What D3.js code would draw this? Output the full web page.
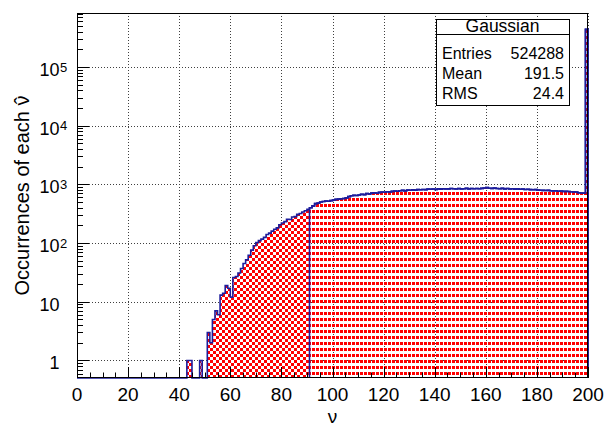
<!DOCTYPE html>
<html><head><meta charset="utf-8">
<script src="https://cdn.jsdelivr.net/npm/d3@7"></script>
<style>body{margin:0;background:#fff}svg{display:block}</style>
</head><body>
<svg id="c" width="605" height="426"></svg>
<script>
// ---- data ----
// counts per unit-wide bin, index = bin low edge (0..199)
const counts = [
  0,0,0,0,0,0,0,0,0,0, 0,0,0,0,0,0,0,0,0,0,
  0,0,0,0,0,0,0,0,0,0, 0,0,0,0,0,0,0,0,0,0,
  0,0,0,1,1,0,0,0,1,0, 0,3,2,5,7,6,13,14,19,17,
  12,26,27,31,37,45,52,62,76,90, 102,110,117,125,140,148,160,172,182,205,
  220,232,255,252,278,282,308,320,338,355, 375,400,430,470,480,500,510,520,515,530,
  540,555,560,570,575,590,620,640,650,645, 660,680,670,700,690,710,720,705,730,740,
  735,750,745,760,770,765,780,790,775,800, 795,805,800,815,810,820,815,830,825,835,
  820,840,830,845,835,840,850,845,835,850, 840,845,855,840,850,845,850,845,855,870,
  880,860,855,865,850,845,855,840,850,835, 845,830,840,825,830,820,825,815,810,815,
  800,795,790,785,790,780,775,780,765,770, 760,760,755,750,745,740,720,715,710,437710
];
const splitBin = 91;                       // second fill style starts here
const xTicks = [0,20,40,60,80,100,120,140,160,180,200];
const yTickExps = [0,1,2,3,4,5];
const statsTitle = "Gaussian";
const statNames = ["Entries","Mean","RMS"];
const statValues = ["524288","191.5","24.4"];
const xTitle = "\u03BD";
const yTitle = "Occurrences of each \u03BD";
const yTitleHat = "\u02C6";

// ---- layout ----
const L = 77, R = 588, T = 13, B = 378;
const yMin = 0.503, yMax = Math.pow(10, 5.92);
const FONT = "'Liberation Sans', Arial, Helvetica, sans-serif";
const BLUE = "#1c1c9c", RED = "#ff0000";

const svg = d3.select("#c");
const x = d3.scaleLinear().domain([0, 200]).range([L, R]);
const y = d3.scaleLog().domain([yMin, yMax]).range([B, T]).clamp(true);
const yPos = v => v > 0 ? y(v) : B;

// patterns
const defs = svg.append("defs");
const c = 3;
const p1 = defs.append("pattern").attr("id","checker").attr("patternUnits","userSpaceOnUse")
  .attr("width", 2*c).attr("height", 2*c);
p1.append("rect").attr("width",2*c).attr("height",2*c).attr("fill","#fff");
p1.append("rect").attr("x",0).attr("y",0).attr("width",c).attr("height",c).attr("fill",RED);
p1.append("rect").attr("x",c).attr("y",c).attr("width",c).attr("height",c).attr("fill",RED);
const p2 = defs.append("pattern").attr("id","dots").attr("patternUnits","userSpaceOnUse")
  .attr("width", 4).attr("height", 6);
p2.append("rect").attr("x",0).attr("y",0).attr("width",3).attr("height",3).attr("fill",RED);

// background
svg.append("rect").attr("width",605).attr("height",426).attr("fill","#fff");

// grid
const grid = svg.append("g").attr("stroke","#000").attr("stroke-width",1)
  .attr("stroke-dasharray","1,2").attr("opacity",0.75);
xTicks.forEach(t => {
  const px = Math.round(x(t)) + 0.5;
  grid.append("line").attr("x1",px).attr("x2",px).attr("y1",T).attr("y2",B);
});
yTickExps.forEach(e => {
  const py = Math.round(y(Math.pow(10,e))) + 0.5;
  grid.append("line").attr("x1",L).attr("x2",R).attr("y1",py).attr("y2",py);
});

// step points
function stepPoints(i0, i1) {
  const pts = [];
  for (let i = i0; i < i1; i++) { pts.push([i, counts[i]]); pts.push([i+1, counts[i]]); }
  return pts;
}
const area = d3.area().x(d => x(d[0])).y0(B).y1(d => yPos(d[1]));
const line = d3.line().x(d => x(d[0])).y(d => yPos(d[1]));

svg.append("path").datum(stepPoints(0, splitBin)).attr("d", area).attr("fill","url(#checker)");
svg.append("path").datum(stepPoints(splitBin, counts.length)).attr("d", area).attr("fill","url(#dots)");

const full = [[0,0]].concat(stepPoints(0, counts.length), [[counts.length,0]]);
svg.append("path").datum(full).attr("d", line).attr("fill","none")
  .attr("stroke",BLUE).attr("stroke-width",1.6);
const part = [[splitBin,0]].concat(stepPoints(splitBin, counts.length), [[counts.length,0]]);
svg.append("path").datum(part).attr("d", line).attr("fill","none")
  .attr("stroke",BLUE).attr("stroke-width",1.6);

// frame
svg.append("rect").attr("x",L+0.5).attr("y",T+0.5).attr("width",R-L-1).attr("height",B-T-1)
  .attr("fill","none").attr("stroke","#000").attr("stroke-width",1);

// x ticks
const ax = svg.append("g").attr("stroke","#000").attr("stroke-width",1);
for (let v = 0; v <= 200; v += 5) {
  const px = Math.round(x(v)) + 0.5;
  const len = (v % 20 === 0) ? 11 : 5.5;
  ax.append("line").attr("x1",px).attr("x2",px).attr("y1",B).attr("y2",B-len);
}
// y ticks
const lo = Math.floor(Math.log10(yMin)), hi = Math.ceil(Math.log10(yMax));
for (let e = lo; e <= hi; e++) {
  for (let m = 1; m <= 9; m++) {
    const v = m * Math.pow(10, e);
    if (v < yMin || v > yMax) continue;
    const py = Math.round(y(v)) + 0.5;
    const len = m === 1 ? 12 : 6;
    ax.append("line").attr("x1",L).attr("x2",L+len).attr("y1",py).attr("y2",py);
  }
}

// x labels
svg.append("g").selectAll("text").data(xTicks).join("text")
  .attr("x", d => x(d)).attr("y", 401).attr("text-anchor","middle")
  .attr("font-family",FONT).attr("font-size",19).attr("fill","#000").text(d => d);

// y labels
const yl = svg.append("g").attr("font-family",FONT).attr("fill","#000");
yTickExps.forEach(e => {
  const py = y(Math.pow(10,e));
  yl.append("text").attr("x",59.5).attr("y",py+9).attr("text-anchor","end")
    .attr("font-size",18).text(e === 0 ? "1" : "10");
  if (e >= 2) {
    yl.append("text").attr("x",60).attr("y",py+4.5).attr("text-anchor","start")
      .attr("font-size",13).text(e);
  }
});

// axis titles
svg.append("text").attr("x",(L+R)/2).attr("y",422.5).attr("text-anchor","middle")
  .attr("font-family",FONT).attr("font-size",19).text(xTitle);
const yt = svg.append("g").attr("transform",`translate(29,${(T+B)/2}) rotate(-90)`);
const ytText = yt.append("text").attr("text-anchor","middle").attr("font-family",FONT)
  .attr("font-size",20).text(yTitle);
const lastIdx = yTitle.length - 1;
const ext = ytText.node().getExtentOfChar(lastIdx);
yt.append("text").attr("x", ext.x + ext.width/2).attr("y", 1).attr("text-anchor","middle")
  .attr("font-family",FONT).attr("font-size",22).text(yTitleHat);

// stats box
const bx0 = 436, bx1 = 569, by0 = 19, by1 = 105, byLine = 34;
const sb = svg.append("g");
sb.append("rect").attr("x",bx0+0.5).attr("y",by0+0.5).attr("width",bx1-bx0).attr("height",by1-by0)
  .attr("fill","#fff").attr("stroke","#000").attr("stroke-width",1);
sb.append("line").attr("x1",bx0).attr("x2",bx1).attr("y1",byLine+0.5).attr("y2",byLine+0.5)
  .attr("stroke","#000").attr("stroke-width",1);
sb.append("text").attr("x",(bx0+bx1)/2).attr("y",32).attr("text-anchor","middle")
  .attr("font-family",FONT).attr("font-size",17.5).text(statsTitle);
const rowY = [59, 79, 99];
statNames.forEach((n,i) => {
  sb.append("text").attr("x",442).attr("y",rowY[i]).attr("font-family",FONT)
    .attr("font-size",16).text(n);
  sb.append("text").attr("x",564).attr("y",rowY[i]).attr("text-anchor","end")
    .attr("font-family",FONT).attr("font-size",16).text(statValues[i]);
});
</script>
</body></html>
